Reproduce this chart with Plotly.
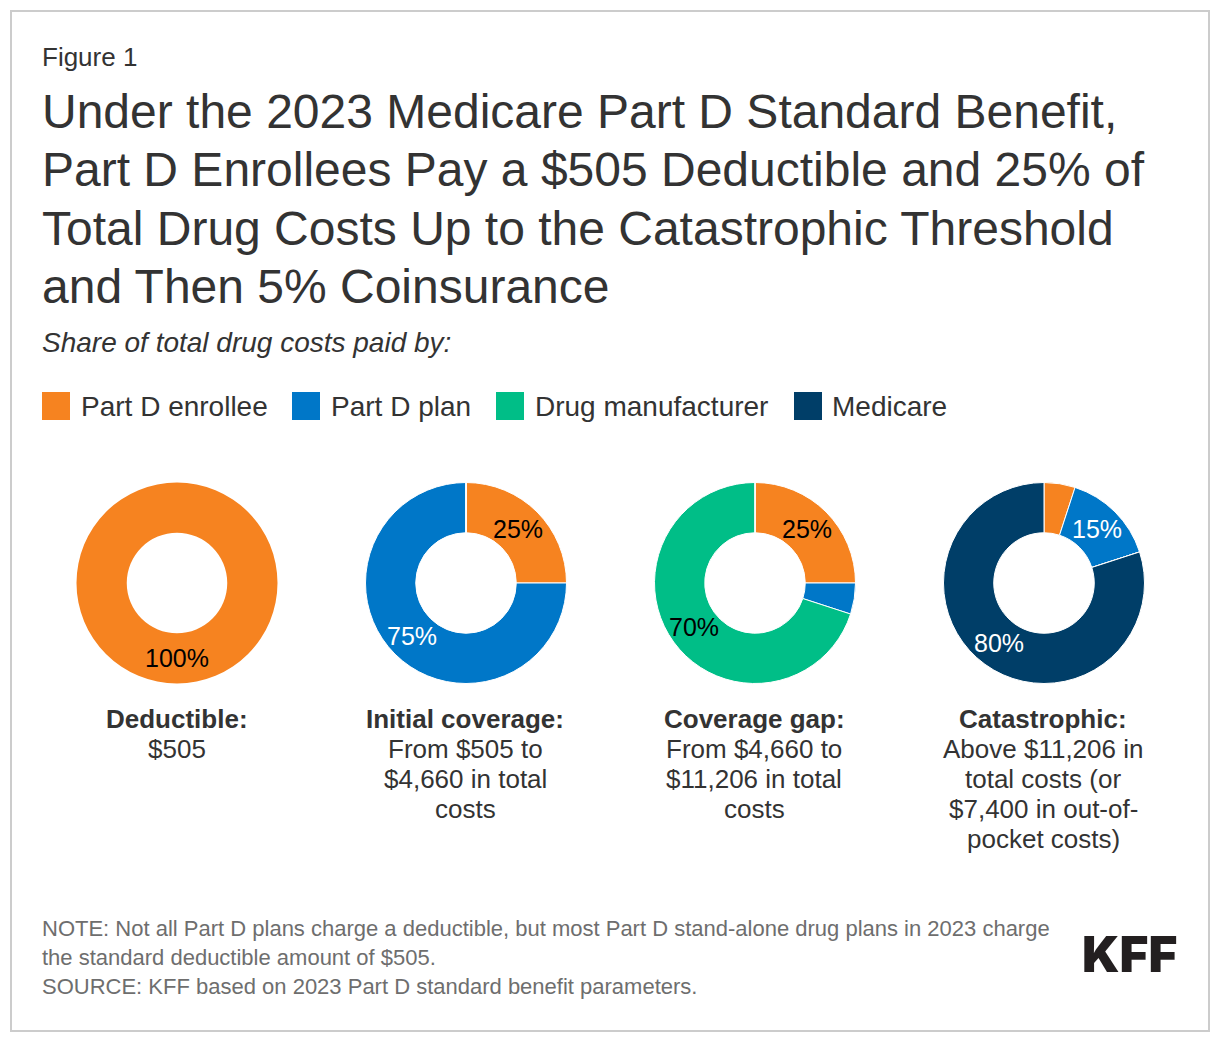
import plotly.graph_objects as go

W, H = 1220, 1042

series = ["Part D enrollee", "Part D plan", "Drug manufacturer", "Medicare"]
colors = ["#F68320", "#0077C8", "#00BE87", "#003E68"]

deductible_values = [100, 0, 0, 0]
initial_values = [25, 75, 0, 0]
gap_values = [25, 5, 70, 0]
catastrophic_values = [5, 15, 0, 80]

stage_values = [deductible_values, initial_values, gap_values, catastrophic_values]
stage_heads = ["Deductible:", "Initial coverage:", "Coverage gap:", "Catastrophic:"]
stage_bodies = [
    ["$505"],
    ["From $505 to", "$4,660 in total", "costs"],
    ["From $4,660 to", "$11,206 in total", "costs"],
    ["Above $11,206 in", "total costs (or", "$7,400 in out-of-", "pocket costs)"],
]

figure_label = "Figure 1"
title_lines = [
    "Under the 2023 Medicare Part D Standard Benefit,",
    "Part D Enrollees Pay a $505 Deductible and 25% of",
    "Total Drug Costs Up to the Catastrophic Threshold",
    "and Then 5% Coinsurance",
]
subtitle = "Share of total drug costs paid by:"
note_lines = [
    "NOTE: Not all Part D plans charge a deductible, but most Part D stand-alone drug plans in 2023 charge",
    "the standard deductible amount of $505.",
    "SOURCE: KFF based on 2023 Part D standard benefit parameters.",
]

FONT = "Liberation Sans, Arial, sans-serif"
TEXT = "#333333"
centers = [177, 466, 755, 1044]
CY, R = 583, 100.5

# (stage, series index) -> label centre in pixels and colour
value_labels = [
    (0, 0, 176.5, 658, "#000000"),
    (1, 0, 518, 529, "#000000"),
    (1, 1, 412, 636, "#FFFFFF"),
    (2, 0, 807, 529, "#000000"),
    (2, 2, 694, 627, "#000000"),
    (3, 1, 1097, 529, "#FFFFFF"),
    (3, 3, 999, 643, "#FFFFFF"),
]

fig = go.Figure()
for vals, cx in zip(stage_values, centers):
    single = sum(1 for v in vals if v > 0) == 1
    fig.add_trace(go.Pie(
        values=vals, labels=series, hole=0.5, sort=False, direction="clockwise", rotation=0,
        marker=dict(colors=colors, line=dict(color="#FFFFFF", width=0 if single else 1)),
        textinfo="none", hoverinfo="label+percent", showlegend=False,
        domain=dict(x=[(cx - R) / W, (cx + R) / W], y=[1 - (CY + R) / H, 1 - (CY - R) / H]),
    ))

ann = []
def text(px, py, s, size, color=TEXT, anchor="left", family=FONT, weight=None, style=None):
    ann.append(dict(
        x=px / W, y=1 - py / H, xref="paper", yref="paper", text=s, showarrow=False,
        xanchor=anchor, yanchor="middle", align=anchor,
        font=dict(size=size, color=color, family=family, weight=weight, style=style),
        borderpad=0, borderwidth=0,
    ))

text(42, 57, figure_label, 26)
for i, line in enumerate(title_lines):
    text(42, 111.5 + 58.3 * i, line, 48)
text(42, 343, subtitle, 28, style="italic")

shapes = [dict(type="rect", xref="paper", yref="paper", x0=11 / W, x1=1209 / W, y0=1 - 1031 / H, y1=1 - 11 / H,
               line=dict(color="#CCCCCC", width=2), fillcolor="rgba(0,0,0,0)", layer="below")]
legend_x = [42, 292, 496, 794]
for name, col, lx in zip(series, colors, legend_x):
    shapes.append(dict(type="rect", xref="paper", yref="paper", x0=lx / W, x1=(lx + 28) / W,
                       y0=1 - 420 / H, y1=1 - 392 / H, fillcolor=col, line=dict(width=0)))
    text(lx + 38.5, 406.5, name, 28)

for st, si, px, py, col in value_labels:
    text(px, py, f"{stage_values[st][si]}%", 25, color=col, anchor="center")

for head, body, cx in zip(stage_heads, stage_bodies, centers):
    tx = cx - (1 if cx != 177 else 0)
    text(tx, 719, head, 26, anchor="center", weight="bold")
    for j, line in enumerate(body):
        text(tx, 749 + 30 * j, line, 26, anchor="center")

for i, line in enumerate(note_lines):
    text(42, 928.5 + 29 * i, line, 22, color="#6E6E6E")

text(1129.5, 953.5, "KFF", 49.5, color="#231F20", anchor="center", family="Inter, Liberation Sans", weight=900)

fig.update_layout(
    width=W, height=H, autosize=False, margin=dict(l=0, r=0, t=0, b=0),
    paper_bgcolor="#FFFFFF", plot_bgcolor="#FFFFFF", annotations=ann, shapes=shapes,
)
fig.write_html("out.html", config=dict(displayModeBar=False),
               post_script="document.body.style.margin='0';document.documentElement.style.overflow='hidden';")
